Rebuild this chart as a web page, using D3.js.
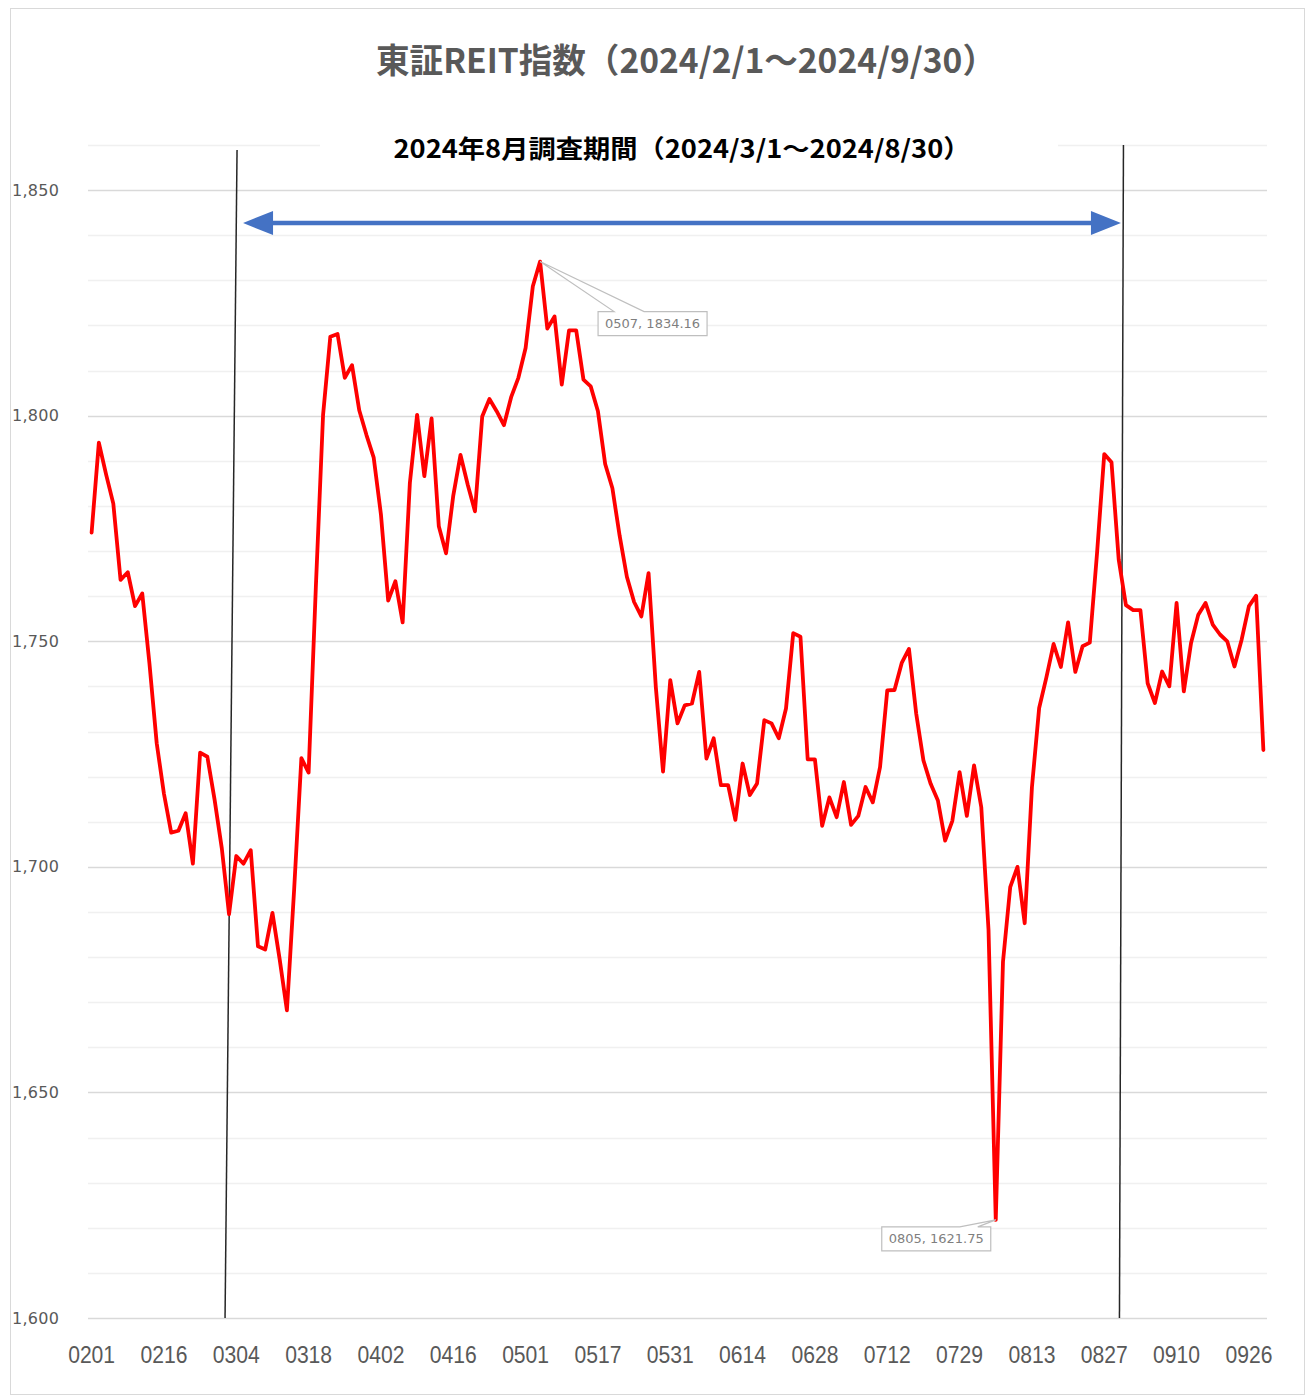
<!DOCTYPE html>
<html>

<head>
  <meta charset="utf-8">
  <title>東証REIT指数</title>
  <script src="https://d3js.org/d3.v7.min.js"></script>
  <style>
    body { margin: 0; background: #fff; }
    svg { display: block; }
  </style>
</head>

<body>
  <script>
    // trading days (MMDD) 2024/2/1 - 2024/9/30
    var dates = ["0201","0202","0205","0206","0207","0208","0209","0213","0214","0215",
      "0216","0219","0220","0221","0222","0226","0227","0228","0229","0301",
      "0304","0305","0306","0307","0308","0311","0312","0313","0314","0315",
      "0318","0319","0321","0322","0325","0326","0327","0328","0329","0401",
      "0402","0403","0404","0405","0408","0409","0410","0411","0412","0415",
      "0416","0417","0418","0419","0422","0423","0424","0425","0426","0430",
      "0501","0502","0507","0508","0509","0510","0513","0514","0515","0516",
      "0517","0520","0521","0522","0523","0524","0527","0528","0529","0530",
      "0531","0603","0604","0605","0606","0607","0610","0611","0612","0613",
      "0614","0617","0618","0619","0620","0621","0624","0625","0626","0627",
      "0628","0701","0702","0703","0704","0705","0708","0709","0710","0711",
      "0712","0716","0717","0718","0719","0722","0723","0724","0725","0726",
      "0729","0730","0731","0801","0802","0805","0806","0807","0808","0809",
      "0813","0814","0815","0816","0819","0820","0821","0822","0823","0826",
      "0827","0828","0829","0830","0902","0903","0904","0905","0906","0909",
      "0910","0911","0912","0913","0917","0918","0919","0920","0924","0925",
      "0926","0927","0930"];

    // index values
    var values = [1774.1,1794.0,1787.0,1780.5,1763.6,1765.3,1757.8,1760.6,1745.0,1727.4,
      1716.2,1707.6,1708.0,1711.9,1700.7,1725.3,1724.4,1714.9,1704.1,1689.5,
      1702.4,1700.7,1703.7,1682.4,1681.7,1689.8,1679.5,1668.2,1695.0,1724.1,
      1720.9,1762.0,1800.2,1817.5,1818.1,1808.4,1811.2,1801.2,1795.7,1790.7,
      1778.1,1759.0,1763.3,1754.2,1785.1,1800.2,1786.6,1799.4,1775.5,1769.5,
      1782.3,1791.3,1784.7,1778.8,1799.8,1803.7,1801.0,1797.9,1804.1,1808.4,
      1815.0,1828.7,1834.16,1819.3,1822.0,1806.9,1818.9,1818.9,1808.0,1806.5,
      1801.0,1789.3,1783.9,1773.4,1764.3,1758.7,1755.5,1765.1,1739.9,1721.1,
      1741.4,1731.8,1735.8,1736.2,1743.2,1724.0,1728.5,1718.1,1718.1,1710.4,
      1722.9,1715.9,1718.5,1732.5,1731.8,1728.5,1735.1,1751.8,1751.0,1723.8,
      1723.8,1709.1,1715.4,1711.0,1718.8,1709.3,1711.3,1717.7,1714.3,1722.1,
      1739.1,1739.2,1745.2,1748.3,1734.0,1723.6,1718.4,1714.7,1705.8,1710.2,
      1721.0,1711.3,1722.5,1713.2,1686.0,1621.75,1679.0,1695.5,1700.0,1687.5,
      1717.6,1735.2,1742.0,1749.4,1744.3,1754.2,1743.2,1748.9,1749.7,1769.5,
      1791.5,1789.7,1768.1,1758.0,1756.9,1756.9,1740.7,1736.3,1743.3,1740.0,
      1758.5,1738.9,1749.6,1755.9,1758.5,1753.7,1751.5,1750.0,1744.4,1750.4,
      1757.8,1760.1,1725.9];

    var xTickLabels = ["0201","0216","0304","0318","0402","0416","0501","0517","0531",
      "0614","0628","0712","0729","0813","0827","0910","0926"];
    var yTickValues = [1600, 1650, 1700, 1750, 1800, 1850];
    var periodDates = ["0301", "0830"];
    var callouts = [
      { date: "0507", value: 1834.16, text: "0507, 1834.16" },
      { date: "0805", value: 1621.75, text: "0805, 1621.75" }
    ];
    var title = "東証REIT指数（2024/2/1～2024/9/30）";
    var subtitle = "2024年8月調査期間（2024/3/1～2024/8/30）";

    var data = dates.map(function (d, i) { return { date: d, value: values[i] }; });

    var svg = d3.select("body").append("svg").attr("width", 1314).attr("height", 1400);

    var margin = { top: 145, right: 47, bottom: 82, left: 88 };
    var W = 1314, H = 1400;
    var x = d3.scaleBand().domain(dates).range([margin.left, W - margin.right]);
    var y = d3.scaleLinear().domain([1600, 1860]).range([H - margin.bottom, margin.top]);
    var cx = function (d) { return x(d) + x.bandwidth() / 2; };

    // chart border
    svg.append("rect")
      .attr("x", 10.5).attr("y", 8.5).attr("width", 1294).attr("height", 1386)
      .attr("fill", "#fff").attr("stroke", "#d9d9d9");

    // gridlines
    svg.append("g").selectAll("line")
      .data(d3.range(1600, 1861, 10))
      .enter().append("line")
      .attr("x1", margin.left).attr("x2", W - margin.right)
      .attr("y1", function (d) { return Math.round(y(d)) + 0.5; })
      .attr("y2", function (d) { return Math.round(y(d)) + 0.5; })
      .attr("stroke", function (d) { return d % 50 === 0 ? "#d9d9d9" : "#f0f0f0"; })
      .attr("stroke-width", 1.5);

    // y axis labels (left aligned like the original)
    var yAxis = svg.append("g")
      .attr("transform", "translate(12,0)")
      .call(d3.axisLeft(y).tickValues(yTickValues).tickSize(0).tickPadding(0).tickFormat(d3.format(",")));
    yAxis.select(".domain").remove();
    yAxis.selectAll("text")
      .attr("x", 0)
      .attr("text-anchor", "start")
      .attr("fill", "#595959")
      .style("font-family", "'DejaVu Sans', sans-serif")
      .style("font-size", "16px")
      .style("letter-spacing", "0.3px");

    // x axis labels (condensed look)
    var xAxis = svg.append("g")
      .attr("transform", "translate(0," + (H - margin.bottom) + ")")
      .call(d3.axisBottom(x).tickValues(xTickLabels).tickSize(0).tickPadding(0));
    xAxis.select(".domain").remove();
    xAxis.selectAll("text")
      .attr("y", 45)
      .attr("dy", null)
      .attr("transform", "scale(0.88,1)")
      .attr("fill", "#595959")
      .style("font-family", "'Liberation Sans', sans-serif")
      .style("font-size", "24px");

    // subtitle background
    svg.append("rect")
      .attr("x", 320).attr("y", 124).attr("width", 738).attr("height", 46)
      .attr("fill", "#fff");

    // survey period lines (slightly tilted as in the original)
    var tilt = [{ top: 8, bottom: -4 }, { top: -2.5, bottom: -6.5 }];
    var topY = [150, 145];
    svg.append("g").selectAll("line")
      .data(periodDates)
      .enter().append("line")
      .attr("x1", function (d, i) { return cx(d) + tilt[i].top; })
      .attr("y1", function (d, i) { return topY[i]; })
      .attr("x2", function (d, i) { return cx(d) + tilt[i].bottom; })
      .attr("y2", y(1600))
      .attr("stroke", "#262626")
      .attr("stroke-width", 1.5);

    // double arrow
    var ax0 = cx(periodDates[0]) + 14, ax1 = cx(periodDates[1]) - 5, ay = 223;
    var head = 30, half = 12;
    svg.append("line")
      .attr("x1", ax0 + head - 2).attr("x2", ax1 - head + 2)
      .attr("y1", ay).attr("y2", ay)
      .attr("stroke", "#4472c4").attr("stroke-width", 4.5);
    svg.append("path")
      .attr("d", "M" + ax0 + "," + ay + "L" + (ax0 + head) + "," + (ay - half) + "L" + (ax0 + head) + "," + (ay + half) + "Z" +
        "M" + ax1 + "," + ay + "L" + (ax1 - head) + "," + (ay - half) + "L" + (ax1 - head) + "," + (ay + half) + "Z")
      .attr("fill", "#4472c4");

    // the series line
    var line = d3.line()
      .x(function (d) { return cx(d.date); })
      .y(function (d) { return y(d.value); });
    svg.append("path")
      .datum(data)
      .attr("fill", "none")
      .attr("stroke", "#ff0000")
      .attr("stroke-width", 3.8)
      .attr("stroke-linejoin", "round")
      .attr("stroke-linecap", "round")
      .attr("d", line);

    // data callouts
    var boxOff = [{ dx: 58, dy: 50, w0: 16, w1: 46 }, { dx: -114, dy: 7, w0: 78, w1: 96 }];
    callouts.forEach(function (c, i) {
      var px = cx(c.date), py = y(c.value);
      var o = boxOff[i];
      var bx = px + o.dx, by = py + o.dy, bw = 109, bh = 24;
      var p = d3.path();
      p.moveTo(bx, by);
      p.lineTo(bx + o.w0, by);
      p.lineTo(px, py);
      p.lineTo(bx + o.w1, by);
      p.lineTo(bx + bw, by);
      p.lineTo(bx + bw, by + bh);
      p.lineTo(bx, by + bh);
      p.closePath();
      svg.append("path")
        .attr("d", p.toString())
        .attr("fill", "#fff")
        .attr("stroke", "#bfbfbf")
        .attr("stroke-width", 1.2);
      svg.append("text")
        .attr("x", bx + bw / 2).attr("y", by + bh / 2)
        .attr("dy", "0.35em")
        .attr("text-anchor", "middle")
        .attr("fill", "#7f7f7f")
        .style("font-family", "'DejaVu Sans', sans-serif")
        .style("font-size", "13px")
        .text(c.text);
    });

    // titles
    svg.append("text")
      .attr("x", 686).attr("y", 73)
      .attr("text-anchor", "middle")
      .attr("textLength", 620)
      .attr("lengthAdjust", "spacingAndGlyphs")
      .attr("fill", "#595959")
      .style("font-family", "'Noto Sans CJK JP', sans-serif")
      .style("font-weight", "700")
      .style("font-size", "34px")
      .text(title);

    svg.append("text")
      .attr("x", 682).attr("y", 158)
      .attr("text-anchor", "middle")
      .attr("textLength", 577)
      .attr("lengthAdjust", "spacingAndGlyphs")
      .attr("fill", "#000")
      .style("font-family", "'Noto Sans CJK JP', sans-serif")
      .style("font-weight", "700")
      .style("font-size", "25px")
      .text(subtitle);
  </script>
</body>

</html>
